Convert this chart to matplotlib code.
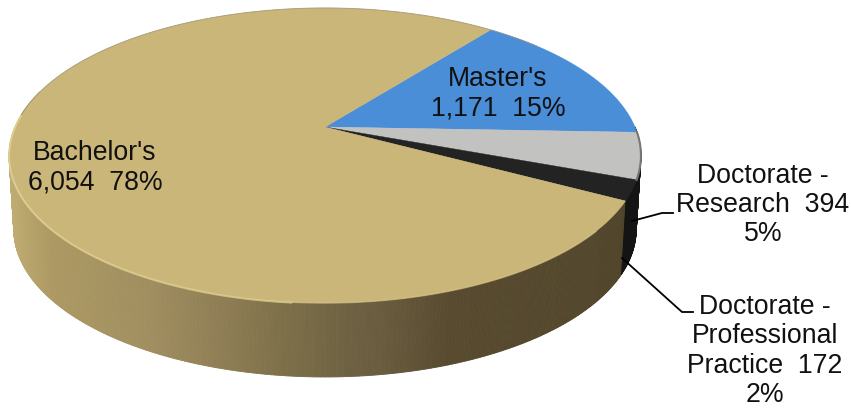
import numpy as np
import matplotlib
matplotlib.use('Agg')
import matplotlib.pyplot as plt
from matplotlib.collections import PolyCollection
from matplotlib.patches import Polygon

plt.rcParams['font.family'] = ['Liberation Sans', 'DejaVu Sans']

# datos
categorias = ["Master's", 'Doctorate - Research', 'Doctorate - Professional Practice', "Bachelor's"]
valores = [1171, 394, 172, 6054]
porcentajes = [15, 5, 2, 78]
colores = ['#4a8ed8', '#c2c2c0', '#232323', '#cbb679']

# geometria del pastel en pixeles
cx, cy = 325, 127
a, b, k = 310, 142, 0.193
prof = 74
inicio = 52


def proyectar(ang):
    t = np.radians(ang)
    u, v = np.cos(t), np.sin(t)
    w = 1 + k * v
    return cx + a * u / w, cy - b * v / w


fig = plt.figure(figsize=(8.51, 4.09), dpi=100)
ax = fig.add_axes([0, 0, 1, 1])
ax.set_xlim(0, 851)
ax.set_ylim(409, 0)
ax.axis('off')

# angulos de cada porcion, en sentido horario
bordes = inicio - np.cumsum([0] + valores) / sum(valores) * 360

# pared lateral
angs = np.linspace(0, -195, 500)
x, y = proyectar(angs)
xb = cx + (x - cx) * 0.985
yb = y + prof
quads = []
cols = []
stops_x = [10, 50, 150, 220, 280, 350, 380, 450, 620, 640]
stops_c = np.array([[190, 172, 114], [172, 153, 98], [160, 142, 96], [143, 126, 85], [126, 112, 73],
                    [110, 97, 66], [106, 92, 62], [87, 74, 47], [82, 70, 44], [70, 60, 36]]) / 255
for i in range(len(angs) - 1):
    quads.append([(x[i], y[i]), (x[i + 1], y[i + 1]), (xb[i + 1], yb[i + 1]), (xb[i], yb[i])])
    if angs[i] > bordes[3]:
        cols.append('#141414')
    else:
        xm = (x[i] + x[i + 1]) / 2
        cols.append([np.interp(xm, stops_x, stops_c[:, j]) for j in range(3)])
ax.add_collection(PolyCollection(quads, facecolors=cols, edgecolors=cols, linewidths=0.6))

# cara superior
for i in range(len(valores)):
    t = np.linspace(bordes[i], bordes[i + 1], 200)
    px, py = proyectar(t)
    pts = np.vstack([[cx, cy], np.column_stack([px, py])])
    ax.add_patch(Polygon(pts, closed=True, facecolor=colores[i], edgecolor=colores[i], linewidth=0.3))

# brillo del borde
t = np.linspace(-95, -185, 200)
px, py = proyectar(t)
ax.plot(px, py + 0.5, color='#e8da9a', lw=1.4, alpha=0.7, solid_capstyle='round')
t = np.linspace(-95, -40, 60)
px, py = proyectar(t)
ax.plot(px, py, color='#d8c88c', lw=1.2, alpha=0.5)
t = np.linspace(bordes[1], bordes[2], 30)
px, py = proyectar(t)
ax.plot(px, py, color='#777777', lw=1.5)
t = np.linspace(-185, -320, 100)
px, py = proyectar(t)
ax.plot(px, py, color='#9a9278', lw=0.7, alpha=0.7)

# etiquetas
fs = 19.2
esp = 1.17
ax.text(95, 168, f"{categorias[3]}\n{valores[3]:,}  {porcentajes[3]}%", fontsize=fs, ha='center', va='center',
        linespacing=esp, color='#111111')
ax.text(498, 94, f"{categorias[0]}\n{valores[0]:,}  {porcentajes[0]}%", fontsize=fs, ha='center', va='center',
        linespacing=esp, color='#111111')
ax.text(763, 205, f"Doctorate -\nResearch  {valores[1]}\n{porcentajes[1]}%", fontsize=fs, ha='center', va='center',
        linespacing=esp, color='#111111')
ax.text(765, 351, f"Doctorate -\nProfessional\nPractice  {valores[2]}\n{porcentajes[2]}%", fontsize=fs, ha='center',
        va='center', linespacing=esp, color='#111111')

# lineas guia
ax.plot([632, 662, 673], [221, 213, 213], color='black', lw=1.3)
ax.plot([622, 682, 693], [258, 312, 312], color='black', lw=1.3)

plt.savefig('out.png', dpi=100)
